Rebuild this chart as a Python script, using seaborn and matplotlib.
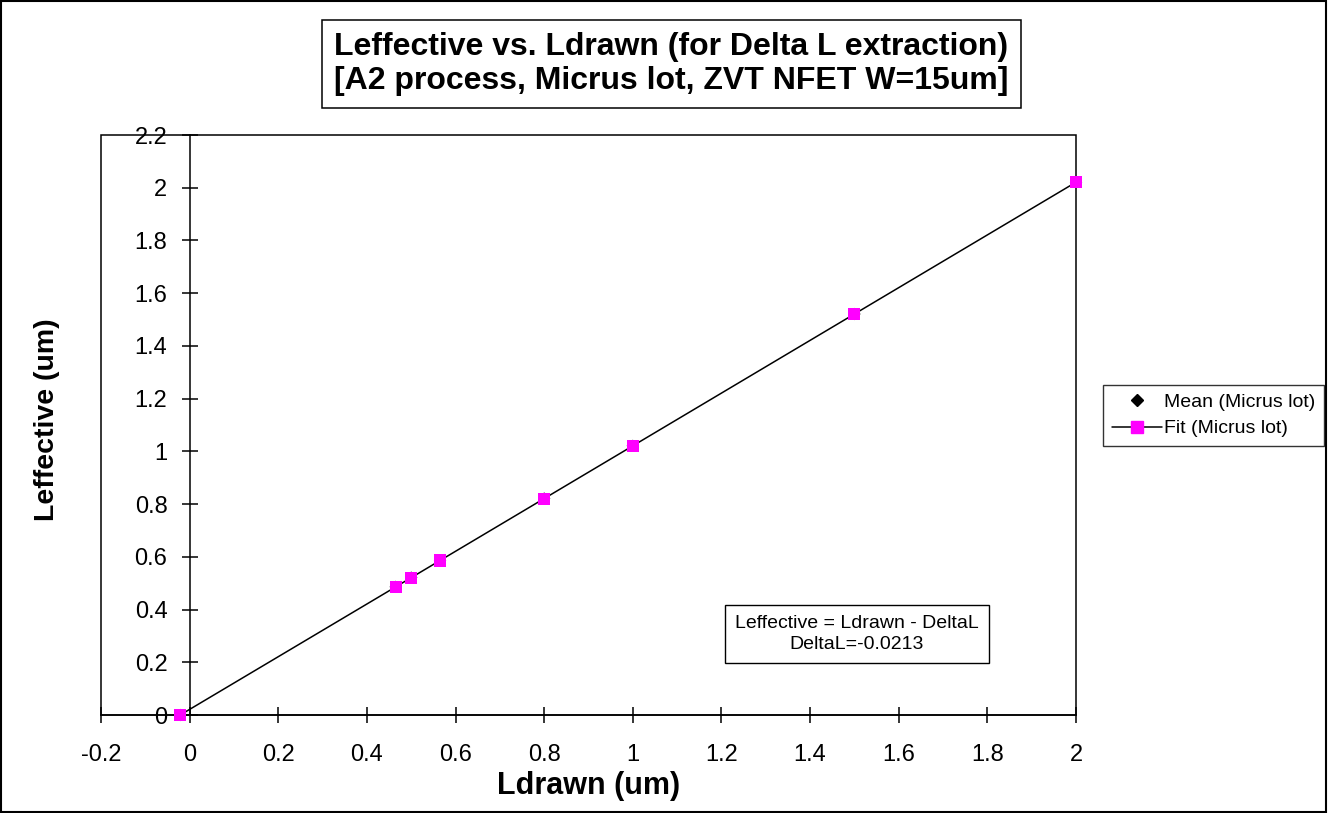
import matplotlib
matplotlib.use("Agg")
import matplotlib.pyplot as plt
import seaborn as sns
import pandas as pd
from matplotlib.patches import Rectangle
from matplotlib.lines import Line2D

# ---- data ----
ldrawn_mean = [-0.0213, 0.465, 0.5, 0.565, 0.8, 1.0, 1.5, 2.0]
leff_mean = [0.0, 0.486, 0.521, 0.586, 0.821, 1.021, 1.521, 2.021]
ldrawn_fit = [-0.0213, 0.465, 0.5, 0.565, 0.8, 1.0, 1.5, 2.0]
leff_fit = [0.0, 0.486, 0.521, 0.586, 0.821, 1.021, 1.521, 2.021]
x_ticks = [-0.2, 0, 0.2, 0.4, 0.6, 0.8, 1, 1.2, 1.4, 1.6, 1.8, 2]
x_tick_labels = ["-0.2", "0", "0.2", "0.4", "0.6", "0.8", "1", "1.2", "1.4", "1.6", "1.8", "2"]
y_ticks = [0, 0.2, 0.4, 0.6, 0.8, 1, 1.2, 1.4, 1.6, 1.8, 2, 2.2]
y_tick_labels = ["0", "0.2", "0.4", "0.6", "0.8", "1", "1.2", "1.4", "1.6", "1.8", "2", "2.2"]
title_text = "Leffective vs. Ldrawn (for Delta L extraction)\n[A2 process, Micrus lot, ZVT NFET W=15um]"
x_label = "Ldrawn (um)"
y_label = "Leffective (um)"
mean_label = "Mean (Micrus lot)"
fit_label = "Fit (Micrus lot)"
box_text = "Leffective = Ldrawn - DeltaL\nDeltaL=-0.0213"

sns.set_style("white")
plt.rcParams["font.family"] = ["Liberation Sans", "DejaVu Sans"]
plt.rcParams["text.color"] = "black"
plt.rcParams["axes.labelcolor"] = "black"
plt.rcParams["xtick.color"] = "black"
plt.rcParams["ytick.color"] = "black"

df_mean = pd.DataFrame({"x": ldrawn_mean, "y": leff_mean})
df_fit = pd.DataFrame({"x": ldrawn_fit, "y": leff_fit})

fig = plt.figure(figsize=(13.28, 8.13), dpi=100)
ax = fig.add_axes([101 / 1328, 1 - 715 / 813, (1076 - 101) / 1328, (715 - 135) / 813])

sns.scatterplot(data=df_mean, x="x", y="y", ax=ax, marker="D", color="black",
                s=40, edgecolor="none", zorder=3, legend=False, clip_on=False)
sns.lineplot(data=df_fit, x="x", y="y", ax=ax, color="black", linewidth=1.1,
             sort=False, estimator=None, zorder=4, legend=False)
sns.scatterplot(data=df_fit, x="x", y="y", ax=ax, marker="s", color="#FF00FF",
                s=75, edgecolor="none", zorder=5, legend=False, clip_on=False)

ax.set_xlim(-0.2, 2.0)
ax.set_ylim(0, 2.2)
ax.set_xticks(x_ticks)
ax.set_xticklabels(x_tick_labels)
ax.set_yticks(y_ticks)
ax.set_yticklabels(y_tick_labels)

for s in ["top", "right"]:
    ax.spines[s].set_visible(False)
ax.spines["left"].set_position(("data", 0))
for s in ["left", "bottom"]:
    ax.spines[s].set_color("black")
    ax.spines[s].set_linewidth(1.1)
ax.add_patch(Rectangle((0, 0), 1, 1, transform=ax.transAxes, fill=False,
                       edgecolor="black", linewidth=1.1, zorder=1, clip_on=False))

ax.tick_params(axis="both", which="major", direction="inout", length=12,
               width=1.1, color="black", labelsize=17, labelcolor="black")
ax.tick_params(axis="y", pad=10, left=True)
ax.tick_params(axis="x", pad=15, bottom=True)

ax.set_xlabel("")
ax.set_ylabel("")
fig.text(589 / 1328, 1 - 786 / 813, x_label, ha="center", va="center",
         fontsize=22, fontweight="bold")
fig.text(47 / 1328, 1 - 420 / 813, y_label, ha="center", va="center",
         rotation=90, fontsize=20.5, fontweight="bold")

fig.text(671.5 / 1328, 1 - 64 / 813, title_text, ha="center", va="center",
         fontsize=23, fontweight="bold", linespacing=1.2,
         bbox=dict(boxstyle="square,pad=0.38", facecolor="white",
                   edgecolor="black", linewidth=1.1))

ax.text((857 - 101) / 975, (715 - 634) / 580, box_text, transform=ax.transAxes,
        ha="center", va="center", fontsize=14, linespacing=1.3,
        bbox=dict(boxstyle="square,pad=0.5", facecolor="white",
                  edgecolor="black", linewidth=1.0))

handles = [
    Line2D([], [], linestyle="none", marker="D", color="black", markersize=6),
    Line2D([], [], color="black", linewidth=1.1, marker="s",
           markerfacecolor="#FF00FF", markeredgecolor="#FF00FF", markersize=8),
]
leg = fig.legend(handles, [mean_label, fit_label], loc="center left",
                 bbox_to_anchor=(1103 / 1328, 1 - 415.5 / 813), fontsize=14,
                 frameon=True, fancybox=False, edgecolor="black",
                 handlelength=2.6, handletextpad=0.1, labelspacing=0.45,
                 borderpad=0.45, borderaxespad=0)
leg.get_frame().set_linewidth(1.0)

fig.patches.append(Rectangle((0.0005, 0.0008), 0.998, 0.998, transform=fig.transFigure,
                             fill=False, edgecolor="black", linewidth=1.5))

fig.savefig("out.png", dpi=100)
